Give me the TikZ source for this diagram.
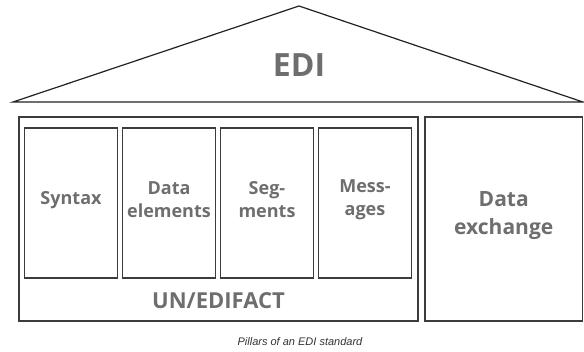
\documentclass[tikz,border=0pt]{standalone}
\usepackage{fontspec}
\setmainfont{Liberation Sans}
\newfontfamily\pillarfont{Open Sans}
\usetikzlibrary{positioning}
\definecolor{labelgray}{HTML}{6E6E6E}
\definecolor{framegray}{HTML}{3C3C3C}
\definecolor{roofblack}{HTML}{222222}

\begin{document}
\begin{tikzpicture}[x=1pt, y=-1pt,
    roof/.style={draw=roofblack, line width=1.2pt, line join=miter},
    frame/.style={draw=framegray, line width=1.3pt, minimum height=204pt, inner sep=0pt, outer sep=0pt},
    pillar/.style={draw=framegray, line width=1.3pt, minimum width=93.5pt, minimum height=150pt, inner sep=0pt, outer sep=0pt},
    pillartext/.style={text=labelgray, align=center, font=\pillarfont\bfseries\fontsize{18}{23}\selectfont},
    bigtext/.style={text=labelgray, align=center, font=\pillarfont\bfseries\fontsize{21}{28}\selectfont}]
    \useasboundingbox (0,0) rectangle (584,351);

    % Roof
    \draw[roof] (13,102) -- (299,6) -- (583,102) -- cycle;
    \node[text=labelgray, font=\pillarfont\bfseries\fontsize{32}{38}\selectfont, anchor=base] (edi) at (299,76.5) {EDI};

    % UN/EDIFACT frame and the data exchange column
    \node[frame, minimum width=399pt] (edifact) at (218.5,219) {};
    \node[frame, minimum width=157.5pt, label={[bigtext, yshift=3pt]center:Data\\exchange}] (exchange) at (503.75,219) {};
    \node[bigtext, font=\pillarfont\bfseries\fontsize{22}{28}\selectfont, anchor=base] (unedifact) at (218.5,308) {UN/EDIFACT};

    % Pillars
    \node[pillar, label={[pillartext, yshift=3pt]center:Syntax}] (syntax) at (71,203) {};
    \node[pillar, right=4.5pt of syntax, label={[pillartext, yshift=3pt]center:Data\\elements}] (elements) {};
    \node[pillar, right=4.5pt of elements, label={[pillartext, yshift=3pt]center:Seg-\\ments}] (segments) {};
    \node[pillar, right=4.5pt of segments, label={[pillartext, yshift=3pt]center:Mess-\\ages}] (messages) {};

    % Caption
    \node[text=black!80, font=\itshape\fontsize{11}{13}\selectfont, anchor=base] (caption) at (300,345) {Pillars of an EDI standard};
\end{tikzpicture}
\end{document}
